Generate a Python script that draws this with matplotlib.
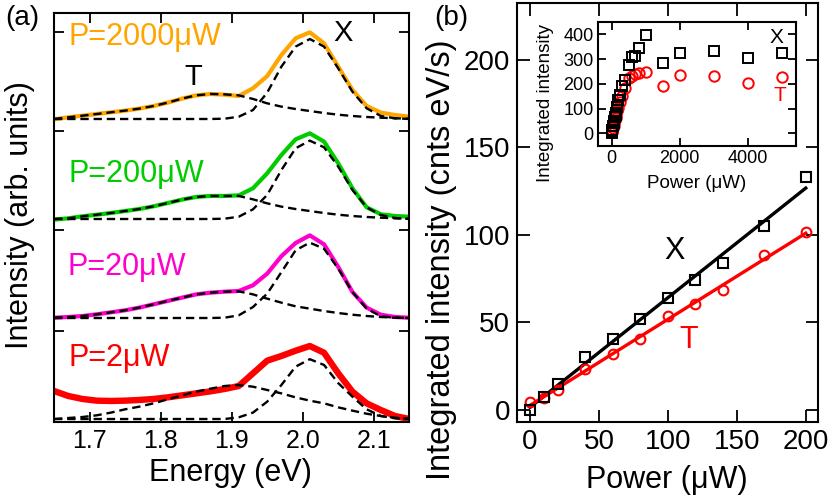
import numpy as np
import matplotlib
matplotlib.use("Agg")
import matplotlib.pyplot as plt

plt.rcParams['font.family'] = ['Liberation Sans', 'DejaVu Sans']
plt.rcParams['lines.scale_dashes'] = False

# (a) PL spectra, values above each fit baseline, read on a 0.02 eV grid
energy = [1.65, 1.67, 1.69, 1.71, 1.73, 1.75, 1.77, 1.79, 1.81, 1.83, 1.85, 1.87, 1.89,
          1.91, 1.93, 1.95, 1.97, 1.99, 2.01, 2.03, 2.05, 2.07, 2.09, 2.11, 2.13, 2.15]

spec_2uW = [0.281, 0.231, 0.201, 0.184, 0.181, 0.184, 0.191, 0.201, 0.217, 0.237, 0.257, 0.277, 0.301,
            0.331, 0.458, 0.585, 0.632, 0.685, 0.732, 0.665, 0.458, 0.274, 0.157, 0.090, 0.030, 0.0]
trion_2uW = [0.0, 0.010, 0.020, 0.037, 0.064, 0.097, 0.124, 0.157, 0.197, 0.237, 0.274, 0.304, 0.331,
             0.341, 0.324, 0.291, 0.257, 0.217, 0.184, 0.157, 0.117, 0.084, 0.053, 0.030, 0.013, 0.003]
exciton_2uW = [0, 0, 0, 0, 0, 0, 0, 0, 0, 0, 0, 0, 0,
               0.017, 0.064, 0.174, 0.341, 0.525, 0.600, 0.542, 0.360, 0.224, 0.097, 0.030, 0.007, 0.0]

spec_20uW = [0.003, 0.010, 0.020, 0.037, 0.057, 0.077, 0.104, 0.137, 0.171, 0.204, 0.237, 0.254, 0.264,
             0.271, 0.328, 0.445, 0.620, 0.752, 0.829, 0.739, 0.512, 0.261, 0.104, 0.033, 0.010, 0.003]
trion_20uW = [0.003, 0.010, 0.020, 0.037, 0.057, 0.077, 0.104, 0.137, 0.171, 0.204, 0.237, 0.254, 0.264,
              0.267, 0.237, 0.194, 0.154, 0.117, 0.094, 0.070, 0.050, 0.033, 0.020, 0.010, 0.003, 0.0]
exciton_20uW = [0, 0, 0, 0, 0, 0, 0, 0, 0, 0, 0, 0, 0.003,
                0.027, 0.110, 0.244, 0.460, 0.679, 0.756, 0.695, 0.495, 0.261, 0.094, 0.017, 0.003, 0.0]

spec_200uW = [-0.007, 0.007, 0.027, 0.043, 0.060, 0.080, 0.100, 0.127, 0.160, 0.194, 0.221, 0.231, 0.231,
              0.237, 0.308, 0.458, 0.642, 0.799, 0.859, 0.776, 0.558, 0.308, 0.117, 0.047, 0.030, 0.023]
trion_200uW = [0.0, 0.007, 0.027, 0.043, 0.060, 0.080, 0.100, 0.127, 0.160, 0.194, 0.221, 0.231, 0.231,
               0.231, 0.197, 0.157, 0.124, 0.100, 0.080, 0.060, 0.043, 0.030, 0.020, 0.013, 0.007, 0.003]
exciton_200uW = [0, 0, 0, 0, 0, 0, 0, 0, 0, 0, 0, 0, 0.003,
                 0.023, 0.097, 0.241, 0.491, 0.709, 0.786, 0.719, 0.525, 0.291, 0.117, 0.040, 0.010, 0.0]

spec_2000uW = [-0.003, 0.017, 0.033, 0.050, 0.067, 0.084, 0.104, 0.130, 0.164, 0.204, 0.237, 0.251, 0.244,
               0.231, 0.308, 0.430, 0.642, 0.809, 0.869, 0.759, 0.525, 0.291, 0.130, 0.064, 0.040, 0.023]
trion_2000uW = [0.0, 0.017, 0.033, 0.050, 0.067, 0.084, 0.104, 0.130, 0.164, 0.204, 0.237, 0.251, 0.247,
                0.237, 0.201, 0.157, 0.124, 0.100, 0.080, 0.060, 0.043, 0.030, 0.020, 0.013, 0.007, 0.003]
exciton_2000uW = [0, 0, 0, 0, 0, 0, 0, 0, 0, 0, 0, 0, 0.003,
                  0.023, 0.090, 0.264, 0.525, 0.726, 0.802, 0.726, 0.508, 0.274, 0.107, 0.030, 0.007, 0.0]

spectra_labels = ["P=2\u03bcW", "P=20\u03bcW", "P=200\u03bcW", "P=2000\u03bcW"]
offsets = [0.0, 1.013, 2.006, 3.009]

# (b) integrated intensity vs power
power = [0, 10, 20, 40, 60, 80, 100, 120, 140, 170, 200]
int_X = [0, 7.3, 14.6, 29.9, 40.2, 51.6, 64.0, 74.1, 83.7, 105.0, 133.2]
int_T = [4.5, 6.5, 11.2, 23.0, 31.6, 40.2, 53.5, 60.4, 68.4, 88.4, 101.4]

# inset: higher powers
power_hi = [250, 300, 400, 500, 600, 700, 800, 1000, 1500, 2000, 3000, 4000, 5000]
int_X_hi = [155, 191, 215, 276, 310, 314, 346, 397, 283, 323, 334, 304, 323]
int_T_hi = [125, 150, 182, 225, 233, 238, 242, 249, 191, 234, 230, 202, 229]

colors = ['#FF0000', '#FF00CC', '#00CC00', '#FFA500']

W, H = 830, 498
fig = plt.figure(figsize=(W / 100, H / 100), dpi=100)


def box(l, t, r, b):
    return [l / W, 1 - b / H, (r - l) / W, (b - t) / H]


def style(ax, size, length):
    ax.tick_params(direction='in', top=True, right=True, length=length, width=1.3,
                   labelsize=size, pad=5)
    for s in ax.spines.values():
        s.set_linewidth(1.5)


#Panel (a)
ax1 = fig.add_axes(box(54, 12.7, 409.3, 421.7))
spectra = [spec_2uW, spec_20uW, spec_200uW, spec_2000uW]
trions = [trion_2uW, trion_20uW, trion_200uW, trion_2000uW]
excitons = [exciton_2uW, exciton_20uW, exciton_200uW, exciton_2000uW]
for off, sp, tr, ex, c in zip(offsets, spectra, trions, excitons, colors):
    lw = 4.6 if c == '#FF0000' else 3.0
    ax1.plot(energy, np.array(sp) + off, color=c, lw=lw, zorder=2, solid_joinstyle='round')
    ax1.plot(energy, np.array(tr) + off, color='black', lw=1.7, dashes=(6, 3.5), zorder=3)
    ax1.plot(energy, np.array(ex) + off, color='black', lw=1.7, dashes=(6, 3.5), zorder=3)
ax1.set_xlim(1.65, 2.15)
ax1.set_ylim(-0.027, 4.075)
ax1.set_xticks([1.7, 1.8, 1.9, 2.0, 2.1])
ax1.set_xticklabels(["1.7", "1.8", "1.9", "2.0", "2.1"])
ax1.set_yticks([0.886, 1.896, 2.889, 3.885])
ax1.set_yticklabels([])
style(ax1, 18, 7)

label_pos = [(68, 358), (67, 267), (68, 174), (68, 37)]
for (x, y), text, c in zip(label_pos, spectra_labels, colors):
    fig.text(x / W, 1 - y / H, text, color=c, fontsize=22, ha='left', va='center')
fig.text(193 / W, 1 - 77 / H, "T", fontsize=21, ha='center', va='center')
fig.text(343 / W, 1 - 33 / H, "X", fontsize=21, ha='center', va='center')
fig.text(230 / W, 1 - 473 / H, "Energy (eV)", fontsize=22, ha='center', va='center')
fig.text(20 / W, 1 - 215 / H, "Intensity (arb. units)", fontsize=22, rotation=90,
         ha='center', va='center')
fig.text(22 / W, 1 - 18 / H, "(a)", fontsize=20, ha='center', va='center')

#Panel (b)
ax2 = fig.add_axes(box(517.3, 2.7, 818.3, 422.3))
fit_X = np.polyfit(power, int_X, 1)
fit_T = np.polyfit(power, int_T, 1)
p_line = np.array([min(power), max(power)])
ax2.plot(p_line, np.polyval(fit_X, p_line), color='black', lw=2.4, zorder=2)
ax2.plot(p_line, np.polyval(fit_T, p_line), color='#FF0000', lw=2.4, zorder=2)
ax2.plot(power, int_T, 'o', mfc='none', mec='#FF0000', mew=1.5, ms=7, zorder=3)
ax2.plot(power, int_X, 's', mfc='none', mec='black', mew=1.5, ms=7, zorder=3)
ax2.set_xlim(-9.2, 209.1)
ax2.set_ylim(-7.3, 232.8)
ax2.set_xticks([0, 50, 100, 150, 200])
ax2.set_yticks([0, 50, 100, 150, 200])
style(ax2, 20, 9)
ax2.text(105, 91, "X", fontsize=22, ha='center', va='center')
ax2.text(115, 40, "T", color='#FF0000', fontsize=22, ha='center', va='center')
fig.text(667 / W, 1 - 480 / H, "Power (\u03bcW)", fontsize=22, ha='center', va='center')
fig.text(441 / W, 1 - 260 / H, "Integrated intensity (cnts eV/s)", fontsize=23.5, rotation=90,
         ha='center', va='center')
fig.text(451 / W, 1 - 18 / H, "(b)", fontsize=20, ha='center', va='center')

#Inset
ax3 = fig.add_axes(box(597.7, 21.7, 796, 145.7))
ax3.plot(power + power_hi, int_T + int_T_hi, 'o', mfc='none', mec='#FF0000', mew=1.4, ms=7.5)
ax3.plot(power + power_hi, int_X + int_X_hi, 's', mfc='none', mec='black', mew=1.4, ms=7.5)
ax3.set_xlim(-410, 5420)
ax3.set_ylim(-50, 451)
ax3.set_xticks([0, 2000, 4000])
ax3.set_yticks([0, 100, 200, 300, 400])
style(ax3, 13, 6)
ax3.tick_params(pad=3)
ax3.text(4832, 388, "X", fontsize=15, ha='center', va='center')
ax3.text(4950, 151, "T", color='#FF0000', fontsize=15, ha='center', va='center')
fig.text(697 / W, 1 - 184 / H, "Power (\u03bcW)", fontsize=13.5, ha='center', va='center')
fig.text(545 / W, 1 - 103 / H, "Integrated intensity", fontsize=13.5, rotation=90,
         ha='center', va='center')

fig.savefig("out.png", dpi=100)
